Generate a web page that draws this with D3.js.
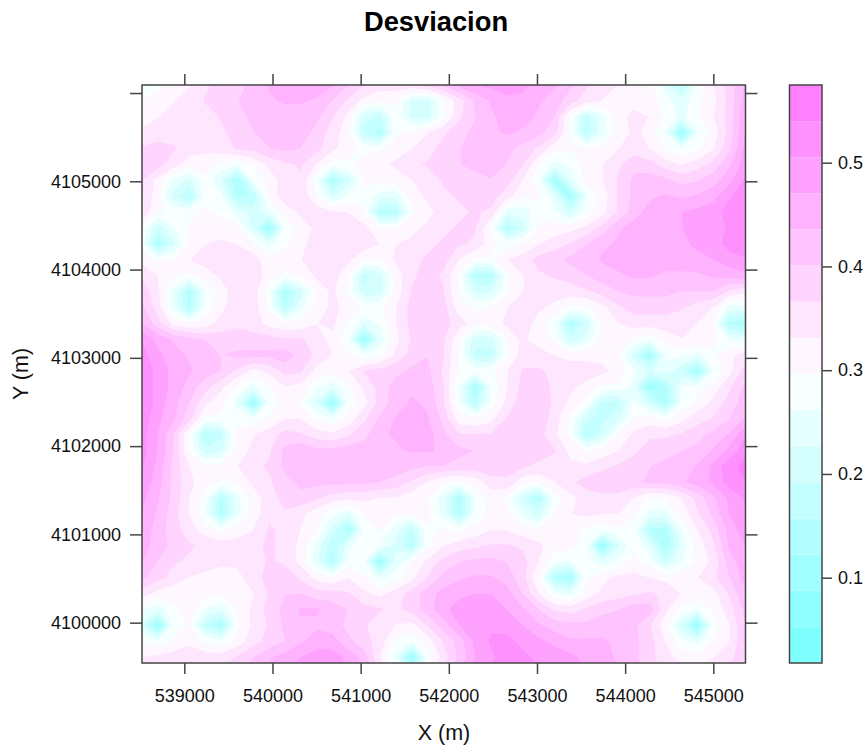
<!DOCTYPE html>
<html>
<head>
<meta charset="utf-8">
<script src="https://cdnjs.cloudflare.com/ajax/libs/d3/7.8.5/d3.min.js"></script>
<style>
body { margin: 0; background: #fff; }
text { font-family: "Liberation Sans", Arial, sans-serif; fill: #111; }
</style>
</head>
<body>
<div id="chart"></div>
<script>
var xTicks = [539000, 540000, 541000, 542000, 543000, 544000, 545000];
var yTicks = [4100000, 4101000, 4102000, 4103000, 4104000, 4105000, 4106000];
var yLabelled = [4100000, 4101000, 4102000, 4103000, 4104000, 4105000];
var keyTicks = [0.1, 0.2, 0.3, 0.4, 0.5];
var levels = [0.0178, 0.0526, 0.0874, 0.1222, 0.1571, 0.1919, 0.2267, 0.2615, 0.2963,
  0.3311, 0.366, 0.4008, 0.4356, 0.4704, 0.5052, 0.5401, 0.5749];
var levelColors = ["#80ffff", "#91ffff", "#a2ffff", "#b3ffff", "#c4ffff", "#d5ffff", "#e6ffff", "#f7ffff",
  "#fff7ff", "#ffe6ff", "#ffd5ff", "#ffc4ff", "#ffb3ff", "#ffa2ff", "#ff91ff", "#ff80ff"];

// grid origin and spacing, in metres
var gridX0 = 538520, gridY0 = 4106091, gridStep = 180;

// desviacion, in hundredths, north to south
var dev = [
[24,29,32,33,36,38,39,41,44,46,47,46,44,40,37,35,35,36,38,41,45,47,48,49,48,46,44,41,37,35,33,32,31,24,15,27,33,38,44],
[30,31,33,34,37,39,40,41,43,44,44,43,40,36,32,30,30,22,21,29,35,41,44,46,46,44,42,38,35,33,33,32,31,28,24,29,32,38,45],
[31,33,34,34,35,37,39,41,42,42,42,41,37,32,20,19,29,22,21,29,36,40,43,45,45,43,40,29,18,25,32,34,33,29,25,29,33,38,46],
[34,35,35,34,34,36,38,40,41,42,42,39,35,31,18,14,29,31,33,36,39,41,43,44,43,41,38,29,16,25,31,34,32,26,9,26,31,38,47],
[37,38,37,35,34,35,37,38,40,41,40,38,34,31,29,29,31,33,35,38,40,41,41,41,39,36,31,30,30,31,33,35,33,29,27,29,33,39,48],
[38,38,35,31,31,29,27,30,34,36,37,33,28,29,31,32,34,36,37,38,40,41,41,40,37,30,25,27,31,33,36,39,38,35,33,35,38,43,49],
[37,32,25,22,29,22,12,27,31,35,36,27,13,21,30,31,31,33,35,37,38,39,40,38,33,27,11,24,31,33,37,41,42,41,39,40,42,46,51],
[37,31,21,15,29,27,15,16,31,35,36,30,22,27,29,24,24,31,34,36,37,38,38,35,30,30,24,11,26,31,37,41,43,44,43,44,46,50,53],
[36,30,29,29,30,29,25,21,25,31,34,35,34,33,30,15,15,29,32,35,36,37,36,24,24,29,27,21,28,32,37,42,45,46,47,48,49,52,54],
[29,20,26,30,31,31,31,22,9,27,31,34,35,35,34,30,30,32,34,36,37,37,29,14,21,30,31,32,34,38,43,45,46,47,47,48,49,51,54],
[28,13,22,31,33,34,33,30,25,29,32,35,36,36,35,33,33,34,36,37,37,36,31,28,30,33,35,37,40,43,44,45,45,46,46,48,49,52,54],
[32,29,30,33,35,36,36,35,31,31,33,35,36,34,30,30,34,36,37,38,33,29,29,33,35,38,39,41,42,44,45,45,45,45,45,46,47,49,50],
[36,33,30,29,31,34,36,36,31,29,30,34,35,30,18,21,31,36,38,36,29,15,15,29,33,36,37,38,40,42,43,44,44,43,43,43,44,45,46],
[39,34,25,14,27,31,36,35,28,13,21,30,34,29,20,21,31,37,39,37,29,22,22,29,33,35,35,35,36,38,40,41,41,41,40,40,40,36,34],
[41,35,25,15,28,32,36,35,29,16,25,31,34,32,29,29,33,38,40,38,31,29,30,33,36,34,32,29,29,32,36,38,38,38,37,35,33,25,25],
[44,38,32,30,31,35,36,35,32,30,31,33,34,29,24,27,33,38,40,38,35,31,31,34,36,31,27,14,20,30,33,35,35,35,35,33,30,15,13],
[50,46,43,41,40,38,38,38,38,37,37,35,32,27,9,24,32,37,39,37,30,21,21,30,34,31,29,20,24,31,33,29,27,31,33,33,31,26,25],
[52,48,45,43,42,40,41,41,41,42,39,36,33,30,27,29,34,38,40,37,29,18,18,29,35,35,33,32,32,32,30,21,11,27,27,25,29,32,35],
[54,49,46,44,42,40,36,32,34,38,37,32,31,33,37,38,39,41,41,36,29,28,29,33,37,37,36,35,35,34,32,27,22,25,20,11,27,32,38],
[54,49,46,42,38,34,29,25,29,33,32,27,24,29,34,38,42,43,42,37,26,12,27,33,38,38,36,34,32,29,29,25,9,14,27,28,31,36,41],
[54,49,45,40,34,31,25,9,27,31,29,22,9,27,32,38,42,44,43,37,27,16,28,34,39,39,36,32,29,18,18,27,21,13,27,31,34,38,42],
[53,48,44,38,29,29,28,27,30,33,33,29,27,31,36,41,44,46,44,39,31,30,32,37,40,39,35,29,20,18,22,30,31,29,32,35,37,40,44],
[52,47,40,29,15,18,31,33,35,38,37,35,34,36,39,43,44,45,45,41,37,37,37,39,40,38,34,29,15,21,30,34,36,36,37,39,41,44,50],
[52,47,40,29,20,22,31,34,36,41,43,41,41,42,42,43,43,44,44,43,41,40,40,39,39,38,37,32,29,31,33,36,38,39,40,41,44,48,53],
[51,46,39,33,31,31,33,36,37,41,42,42,42,42,42,42,42,41,40,40,39,39,39,38,37,36,35,34,34,36,37,38,40,41,42,44,48,53,55],
[50,45,39,34,31,29,30,34,36,39,41,41,41,41,41,40,39,36,33,30,29,31,35,36,31,30,33,36,38,38,38,39,41,41,43,45,48,52,54],
[48,44,39,33,28,15,25,31,35,38,39,37,35,34,34,33,33,31,30,24,13,27,31,29,20,14,28,32,35,36,36,33,29,30,33,38,43,48,51],
[47,43,38,33,27,14,25,31,36,36,34,31,27,24,30,31,31,30,31,25,15,27,31,31,25,21,30,33,34,33,33,30,25,25,31,36,41,47,50],
[46,42,38,35,31,29,31,33,37,36,33,30,21,12,28,30,24,18,29,30,29,31,33,33,31,30,31,31,29,27,29,28,15,14,27,33,38,45,49],
[45,42,39,37,36,35,35,36,37,36,32,25,16,25,29,26,22,15,29,33,35,36,37,37,36,34,31,31,27,9,22,29,24,12,24,31,36,44,47],
[44,40,37,36,35,34,34,35,37,36,32,24,14,28,27,9,24,30,34,38,40,41,41,40,38,33,27,26,28,24,27,31,28,20,26,31,34,42,46],
[41,38,35,33,32,31,32,35,38,39,36,32,30,33,30,25,28,32,37,41,43,44,44,42,38,30,15,12,29,32,34,34,33,32,32,33,36,40,45],
[35,32,31,31,31,30,31,33,37,40,40,38,38,37,34,32,35,38,42,45,46,47,47,45,40,33,27,25,31,34,35,36,37,36,33,32,32,37,43],
[27,24,29,31,26,24,30,34,38,41,44,44,42,40,38,37,36,38,42,46,49,49,49,47,44,40,36,35,37,39,40,42,42,34,29,26,30,35,41],
[22,9,28,30,18,12,29,34,37,41,43,43,42,39,37,35,33,32,37,42,47,49,50,50,47,44,42,41,41,42,42,41,37,31,21,9,28,33,40],
[29,27,30,32,29,27,31,35,38,40,43,45,45,41,38,35,29,27,31,37,42,48,51,51,50,48,46,44,44,44,43,41,38,33,27,25,30,33,40],
[33,34,35,36,35,35,37,40,43,45,47,49,49,46,42,33,25,9,28,35,41,47,50,52,51,50,49,48,46,45,43,41,38,34,32,31,33,36,38],
[34,35,36,37,37,37,38,42,45,47,49,50,50,47,43,36,29,20,31,37,43,49,51,53,52,51,50,49,47,46,44,42,39,36,35,34,35,37,39]
];

var plot = { left: 142, right: 745.5, top: 85, bottom: 663 };
var key = { left: 789.5, right: 822 };

var x = d3.scaleLinear().domain([538520, 545365]).range([plot.left, plot.right]);
var y = d3.scaleLinear().domain([4099543, 4106091]).range([plot.bottom, plot.top]);
var keyScale = d3.scaleLinear().domain([levels[0], levels[16]]).range([plot.bottom, plot.top]);

var svg = d3.select("#chart")
  .append("svg")
  .attr("width", 867)
  .attr("height", 747)
  .style("display", "block");

svg.append("clipPath")
  .attr("id", "plot-clip")
  .append("rect")
  .attr("x", plot.left)
  .attr("y", plot.top)
  .attr("width", plot.right - plot.left)
  .attr("height", plot.bottom - plot.top);

// contour grid index -> map metres -> pixels
var toPixels = d3.geoTransform({
  point: function(u, v) {
    this.stream.point(x(gridX0 + (u - 0.5) * gridStep), y(gridY0 - (v - 0.5) * gridStep));
  }
});
var path = d3.geoPath(toPixels);

var nRows = dev.length, nCols = dev[0].length;
dev.forEach(function(r, i) {
  if (r.length != nCols) throw new Error("row " + i + " has " + r.length);
});

var bands = d3.contours()
  .size([nCols, nRows])
  .thresholds(levels.slice(1, 16))
  (dev.flat().map(function(d) { return d / 100; }));

var field = svg.append("g").attr("clip-path", "url(#plot-clip)");

field.append("rect")
  .attr("x", plot.left)
  .attr("y", plot.top)
  .attr("width", plot.right - plot.left)
  .attr("height", plot.bottom - plot.top)
  .style("fill", levelColors[0]);

field.selectAll("path")
  .data(bands)
  .enter().append("path")
  .attr("d", path)
  .style("fill", function(d, i) { return levelColors[i + 1]; });

// colour key
svg.selectAll(".key-band")
  .data(levelColors)
  .enter().append("rect")
  .attr("class", "key-band")
  .attr("x", key.left)
  .attr("width", key.right - key.left)
  .attr("y", function(d, i) { return keyScale(levels[i + 1]); })
  .attr("height", function(d, i) { return keyScale(levels[i]) - keyScale(levels[i + 1]); })
  .style("fill", function(d) { return d; });

function styleAxis(g) {
  g.select(".domain").remove();
  g.selectAll("line").style("stroke", "#444").style("stroke-width", 1.5);
  g.selectAll("text").style("font-size", "18px").style("fill", "#111");
}

svg.append("g")
  .attr("transform", "translate(0," + plot.bottom + ")")
  .call(d3.axisBottom(x).tickValues(xTicks).tickSize(11).tickPadding(15).tickFormat(d3.format("d")))
  .call(styleAxis);
svg.append("g")
  .attr("transform", "translate(0," + plot.top + ")")
  .call(d3.axisTop(x).tickValues(xTicks).tickSize(11).tickFormat(""))
  .call(styleAxis);
svg.append("g")
  .attr("transform", "translate(" + plot.left + ",0)")
  .call(d3.axisLeft(y).tickValues(yTicks).tickSize(12).tickPadding(9).tickFormat(function(d) {
    return yLabelled.indexOf(d) >= 0 ? d3.format("d")(d) : "";
  }))
  .call(styleAxis);
svg.append("g")
  .attr("transform", "translate(" + plot.right + ",0)")
  .call(d3.axisRight(y).tickValues(yTicks).tickSize(12).tickFormat(""))
  .call(styleAxis);

svg.append("g")
  .attr("transform", "translate(" + key.right + ",0)")
  .call(d3.axisRight(d3.scaleLinear().domain([0.1, 0.5]).range([577.7, 162.7]))
    .tickValues(keyTicks).tickSize(10).tickPadding(6).tickFormat(d3.format(".1f")))
  .call(styleAxis);

[plot, { left: key.left, right: key.right, top: plot.top, bottom: plot.bottom }].forEach(function(b) {
  svg.append("rect")
    .attr("x", b.left)
    .attr("y", b.top)
    .attr("width", b.right - b.left)
    .attr("height", b.bottom - b.top)
    .style("fill", "none")
    .style("stroke", "#444")
    .style("stroke-width", 1.5);
});

svg.append("text")
  .attr("x", 436)
  .attr("y", 31)
  .style("text-anchor", "middle")
  .style("font-size", "27.3px")
  .style("font-weight", "bold")
  .style("fill", "#000")
  .text("Desviacion");

svg.append("text")
  .attr("x", 444)
  .attr("y", 740)
  .style("text-anchor", "middle")
  .style("font-size", "21.5px")
  .text("X (m)");

svg.append("text")
  .attr("transform", "translate(28,374) rotate(-90)")
  .style("text-anchor", "middle")
  .style("font-size", "21.5px")
  .text("Y (m)");
</script>
</body>
</html>
